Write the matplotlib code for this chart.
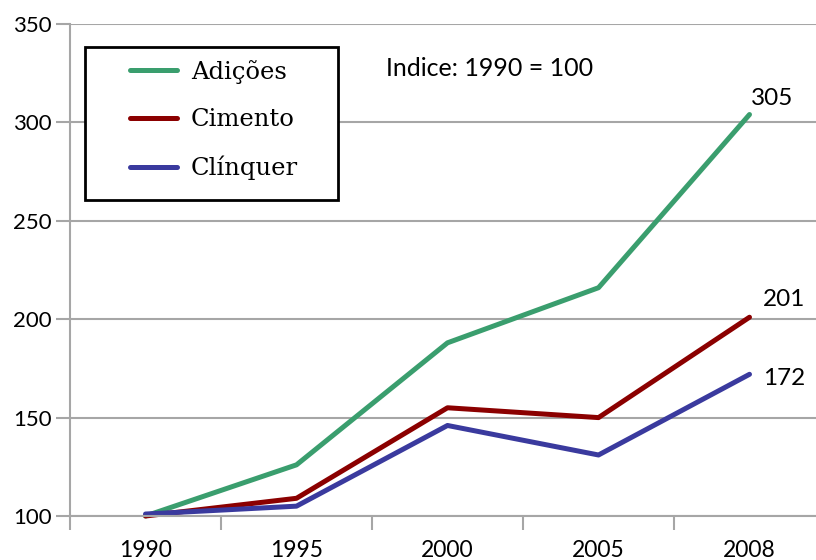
import matplotlib
matplotlib.use('Agg')
import matplotlib.pyplot as plt
from matplotlib.patches import Rectangle

# DATA
anos = ['1990', '1995', '2000', '2005', '2008']
adicoes = [100, 126, 188, 216, 304]
cimento = [100, 109, 155, 150, 201]
clinquer = [101, 105, 146, 131, 172]
rotulos_finais = ['305', '201', '172']

plt.rcParams['font.family'] = ['Lato', 'DejaVu Sans']

fig = plt.figure(figsize=(8.16, 5.6), dpi=100)
ax = fig.add_axes([70/816, 44/560, 755/816, 492/560])

x = range(len(anos))
ax.plot(x, adicoes, color='#3a9e6e', lw=3.6, label='Adições', clip_on=False, solid_capstyle='round')
ax.plot(x, cimento, color='#8b0000', lw=3.6, label='Cimento', clip_on=False, solid_capstyle='round')
ax.plot(x, clinquer, color='#3a3a9e', lw=3.6, label='Clínquer', clip_on=False, solid_capstyle='round')

ax.set_xlim(-0.5, 4.5)
ax.set_ylim(100, 350)
ax.set_yticks([100, 150, 200, 250, 300, 350])
ax.set_xticks([i + 0.5 for i in range(-1, 5)], minor=False)
ax.set_xticklabels([])
ax.set_xticks(list(x), minor=True)
ax.set_xticklabels(anos, minor=True)
ax.tick_params(axis='x', which='major', length=10, width=1.5, color='#a6a6a6', direction='out')
ax.tick_params(axis='x', which='minor', length=0, pad=17, labelsize=16.5)
ax.tick_params(axis='y', length=10, width=1.5, color='#a6a6a6', labelsize=16, pad=3)
ax.grid(axis='y', color='#a6a6a6', lw=1.5)
ax.set_axisbelow(True)
for s in ['top', 'right']:
    ax.spines[s].set_visible(False)
for s in ['left', 'bottom']:
    ax.spines[s].set_color('#a6a6a6')
    ax.spines[s].set_linewidth(1.5)

fig.text(386/816, 1 - 68/560, 'Indice: 1990 = 100', fontsize=18, va='center')
ax.text(4.15, adicoes[-1] + 8, rotulos_finais[0], fontsize=17.5, va='center', ha='center')
ax.text(4.09, cimento[-1] + 9, rotulos_finais[1], fontsize=17.5, va='center', ha='left')
ax.text(4.09, clinquer[-1] - 2, rotulos_finais[2], fontsize=17.5, va='center', ha='left')

# caixa da legenda
caixa = Rectangle((85/816, 1 - 200/560), 253/816, 153/560, transform=fig.transFigure,
                  facecolor='white', edgecolor='black', lw=2, zorder=5, clip_on=False)
ax.add_patch(caixa)
leg = ax.legend(loc='center left', bbox_to_anchor=(130/816, 1 - 120/560),
                bbox_transform=fig.transFigure, frameon=False, borderpad=0,
                labelspacing=1.0, handlelength=1.95, handletextpad=0.55, borderaxespad=0,
                prop={'family': 'DejaVu Serif', 'size': 17.5})
leg.set_zorder(6)

fig.savefig('out.png', dpi=100)
